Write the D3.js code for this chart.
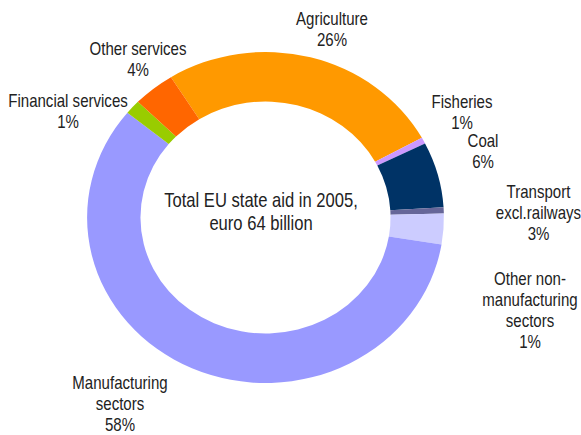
<!DOCTYPE html>
<html>
<head>
<meta charset="utf-8">
<script src="https://cdn.jsdelivr.net/npm/d3@7"></script>
<style>
  html, body { margin: 0; padding: 0; background: #fff; }
  svg text { font-family: "Liberation Sans", Arial, sans-serif; fill: #222; }
</style>
</head>
<body>
<svg id="chart" width="581" height="435"></svg>
<script>
// Sectors, in drawing order (clockwise from the Agriculture slice)
const sectors = ["Agriculture", "Fisheries", "Coal", "Other non-manufacturing sectors",
                 "Transport excl.railways", "Manufacturing sectors", "Financial services", "Other services"];
// Share of total EU state aid, per cent
const shares = [25.9, 0.6, 6.4, 0.6, 3.0, 58.3, 1.4, 3.8];
// Printed percentage labels
const shareLabels = ["26%", "1%", "6%", "1%", "3%", "58%", "1%", "4%"];
// Label text lines (name part)
const nameLines = [
  ["Agriculture"], ["Fisheries"], ["Coal"], ["Other non-", "manufacturing", "sectors"],
  ["Transport", "excl.railways"], ["Manufacturing", "sectors"], ["Financial services"], ["Other services"]
];
const colors = ["#FF9900", "#CC99FF", "#003366", "#666699", "#CCCCFF", "#9999FF", "#99CC00", "#FF6600"];
const centerLines = ["Total EU state aid in 2005,", "euro 64 billion"];

// Layout
const cx = 265.5, cy = 217.5;
const rOuter = 165.5, rInner = 116, xStretch = 1.078;
const startDeg = -32;
// label anchor: centre x and first baseline y
const labelAnchor = [
  [332, 25], [462, 108], [483, 147], [530, 285],
  [538.5, 198], [120, 389], [68, 107], [138, 55]
];
const lineGap = 21;
const narrow = 0.86;      // condensed look for the label face
const narrowCenter = 0.83;

const svg = d3.select("#chart");

const pie = d3.pie().sort(null).value(d => d)
  .startAngle(startDeg * Math.PI / 180)
  .endAngle(startDeg * Math.PI / 180 + 2 * Math.PI);
const arc = d3.arc().innerRadius(rInner).outerRadius(rOuter);

const ring = svg.append("g")
  .attr("transform", `translate(${cx},${cy}) scale(${xStretch},1)`);

ring.selectAll("path")
  .data(pie(shares))
  .join("path")
  .attr("d", arc)
  .attr("fill", (d, i) => colors[i]);

// Slice labels
const labels = svg.append("g").attr("font-size", 17.5).attr("text-anchor", "middle");
sectors.forEach((s, i) => {
  const lines = nameLines[i].concat([shareLabels[i]]);
  const t = labels.append("text")
    .attr("transform", `translate(${labelAnchor[i][0]},${labelAnchor[i][1]}) scale(${narrow},1)`);
  lines.forEach((ln, k) => {
    t.append("tspan").attr("x", 0).attr("y", k * lineGap).text(ln);
  });
});

// Centre caption
const cap = svg.append("text").attr("font-size", 20).attr("text-anchor", "middle")
  .attr("transform", `translate(261,207) scale(${narrowCenter},1)`);
centerLines.forEach((ln, k) => {
  cap.append("tspan").attr("x", 0).attr("y", k * 23.5).text(ln);
});
</script>
</body>
</html>
